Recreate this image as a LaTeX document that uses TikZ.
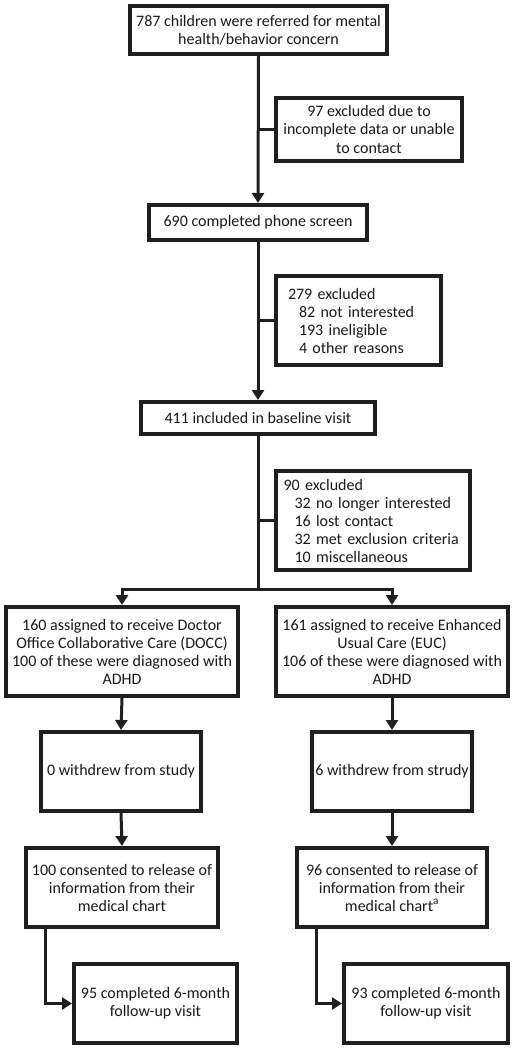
\documentclass[tikz,border=0pt]{standalone}
\usepackage{fontspec}
\setmainfont{Carlito}
\usetikzlibrary{arrows.meta}
\hyphenpenalty=10000
\begin{document}
\begin{tikzpicture}[x=1pt,y=-1pt,>={Triangle[length=10pt,width=12pt]},line join=miter,
	box/.style={draw=black!88,line width=4pt,align=center,inner sep=1pt,text=black!90,
		font=\fontsize{16}{18}\selectfont},
	listbox/.style={box,align=left,inner xsep=12pt},
	link/.style={draw=black!88,line width=3pt}]
	\useasboundingbox (0,0) rectangle (516,1050);
	% main column
	\node[box,minimum width=257pt,minimum height=48pt] (refer) at (258.5,30) {787 children were referred for mental\\health/behavior concern};
	\node[box,minimum width=186pt,minimum height=63pt] (excl1) at (369,129.5) {97 excluded due to\\incomplete data or unable\\to contact};
	\node[box,minimum width=218pt,minimum height=35pt] (phone) at (258,222.5) {690 completed phone screen};
	\node[listbox,text width=141pt,minimum height=89pt] (excl2) at (358.5,320.5) {279 excluded\\\hspace*{11pt}82 not interested\\\hspace*{11pt}193 ineligible\\\hspace*{11pt}4 other reasons};
	\node[box,minimum width=234pt,minimum height=32pt] (base) at (258,418) {411 included in baseline visit};
	\node[listbox,inner xsep=8pt,text width=178pt,minimum height=99pt] (excl3) at (372.5,520.5) {90 excluded\\\hspace*{11pt}32 no longer interested\\\hspace*{11pt}16 lost contact\\\hspace*{11pt}32 met exclusion criteria\\\hspace*{11pt}10 miscellaneous};
	% two arms
	\node[box,minimum width=232pt,minimum height=89pt] (docc) at (122,651.5) {160 assigned to receive Doctor\\Office Collaborative Care (DOCC)\\100 of these were diagnosed with\\ADHD};
	\node[box,minimum width=232pt,minimum height=89pt] (euc) at (392,651.5) {161 assigned to receive Enhanced\\Usual Care (EUC)\\106 of these were diagnosed with\\ADHD};
	\node[box,minimum width=160pt,minimum height=79pt] (wdL) at (121,771.5) {0 withdrew from study};
	\node[box,minimum width=160pt,minimum height=79pt] (wdR) at (392,771.5) {6 withdrew from strudy};
	\node[box,minimum width=192pt,minimum height=79pt] (chartL) at (122,887.5) {100 consented to release of\\information from their\\medical chart};
	\node[box,minimum width=190pt,minimum height=79pt] (chartR) at (392,887.5) {96 consented to release of\\information from their\\medical chart\textsuperscript{a}};
	\node[box,minimum width=163pt,minimum height=79pt] (fuL) at (155.5,1003.5) {95 completed 6-month\\follow-up visit};
	\node[box,minimum width=164pt,minimum height=79pt] (fuR) at (426,1003.5) {93 completed 6-month\\follow-up visit};
	% connectors
	\coordinate (split) at (258,589);
	\draw[link,->] (refer.south) -- (phone.north);
	\draw[link] (258,129.5) -- (excl1.west);
	\draw[link,->] (phone.south) -- (base.north);
	\draw[link] (258,320.5) -- (excl2.west);
	\draw[link] (base.south) -- (split);
	\draw[link] (258,520.5) -- (excl3.west);
	\draw[link,->] (split) -| (docc.north);
	\draw[link,->] (split) -| (euc.north);
	\draw[link,->] (docc.south) -- (wdL.north);
	\draw[link,->] (euc.south) -- (wdR.north);
	\draw[link,->] (wdL.south) -- (chartL.north);
	\draw[link,->] (wdR.south) -- (chartR.north);
	\draw[link,->] (chartL.south -| 45,0) |- (fuL.west);
	\draw[link,->] (chartR.south -| 316,0) |- (fuR.west);
\end{tikzpicture}
\end{document}
